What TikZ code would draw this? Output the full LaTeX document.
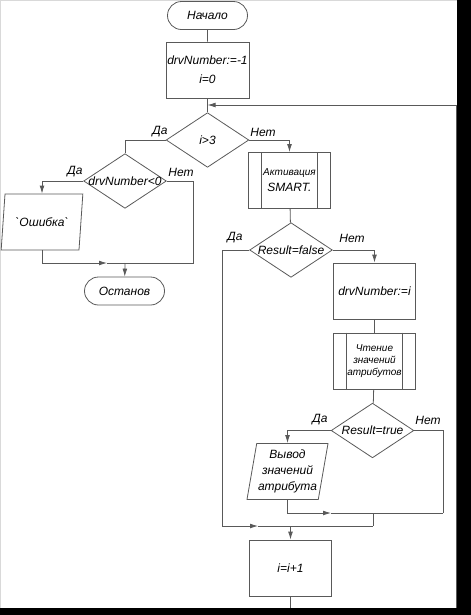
\documentclass[tikz,border=0pt]{standalone}
\usepackage{fontspec}
\setmainfont{Liberation Sans}
\usetikzlibrary{shapes.geometric,shapes.misc,arrows.meta}

\begin{document}
\begin{tikzpicture}[x=0.75pt,y=-0.75pt,
    flow/.style={draw=black!65,line width=0.6pt},
    flowarr/.style={flow,-{Latex[length=6pt,width=3.6pt]}},
    blk/.style={flow,font=\fontsize{9}{11}\selectfont\itshape,inner sep=1pt,align=center},
    term/.style={blk,rounded rectangle,minimum width=62pt,minimum height=21pt},
    proc/.style={blk,rectangle,minimum width=62pt,minimum height=42pt},
    cond/.style={blk,diamond,inner sep=0pt,minimum width=62pt,minimum height=41pt},
    io/.style={blk,trapezium,trapezium stretches=true,minimum height=42pt},
    lbl/.style={font=\fontsize{9}{11}\selectfont\itshape,inner sep=1pt}]
    \useasboundingbox (0,0) rectangle (471,615);
    \draw[black!15] (0.5,0.5) rectangle (457,608);

    % blocks
    \node[term] (start) at (207.5,15.5) {Начало};
    \node[proc] (init) at (207.5,70) {drvNumber:=-1\\[3pt]i=0};
    \node[cond] (d1) at (207.5,140) {\makebox[0pt]{i>3}};
    \node[cond] (d2) at (125,181) {\makebox[0pt]{drvNumber<0}};
    \node[io,minimum width=61.5pt,trapezium left angle=76,trapezium right angle=104] (err) at (42,222) {\textasciigrave Ошибка\textasciigrave};
    \node[term] (stop) at (124.5,291) {Останов};
    \node[proc] (act) at (289.5,180.5) {{\fontsize{7.5}{9}\selectfont Активация}\\[1pt]SMART.};
    \node[cond] (d3) at (291,250) {\makebox[0pt]{Result=false}};
    \node[proc] (setdrv) at (374.5,291) {drvNumber:=i};
    \node[proc,font=\fontsize{7.5}{9}\selectfont\itshape] (read) at (374.5,361) {Чтение\\значений\\атрибутов};
    \node[cond] (d4) at (372.5,430.5) {\makebox[0pt]{Result=true}};
    \node[io,minimum width=61pt,trapezium left angle=78,trapezium right angle=102] (out) at (287.5,471.5) {Вывод\\[1pt]значений\\[1pt]атрибута};
    \node[proc] (inc) at (290.5,568) {i=i+1};
    \foreach \n in {act,read}
        \draw[flow] ([xshift=10.5pt]\n.north west) -- ([xshift=10.5pt]\n.south west)
                    ([xshift=-10.5pt]\n.north east) -- ([xshift=-10.5pt]\n.south east);

    % junctions
    \coordinate (loopin) at (207.5,105);
    \coordinate (j1) at (125,263);
    \coordinate (errmid) at (107,263);
    \coordinate (nojoin) at (193,263);
    \coordinate (yesleft) at (222,526);
    \coordinate (yesmid) at (258,526);
    \coordinate (jm) at (373,526);
    \coordinate (jn) at (373,513);
    \coordinate (outmid) at (331,513);
    \coordinate (nojoin2) at (443,513);
    \coordinate (loopb) at (290.5,609);
    \coordinate (loopr) at (456,609);
    \coordinate (loopt) at (456,105);

    % connectors
    \draw[flow] (start) -- (init);
    \draw[flow] (init) -- (d1);
    \draw[flow] (d1.west) -| (d2.north);
    \draw[flowarr] (d1.east) -| (act.north);
    \draw[flowarr] (d2.west) -| (err.north);
    \draw[flowarr] (err.south) |- (errmid);
    \draw[flow] (errmid) -- (j1);
    \draw[flow] (d2.east) -| (nojoin) -- (j1);
    \draw[flowarr] (j1) -- (stop);
    \draw[flow] (act) -- (d3);
    \draw[flowarr] (d3.east) -| (setdrv.north);
    \draw[flow] (setdrv) -- (read);
    \draw[flow] (read) -- (d4);
    \draw[flowarr] (d4.west) -| (out.north);
    \draw[flow] (d4.east) -| (nojoin2);
    \draw[flowarr] (out.south) |- (outmid);
    \draw[flow] (outmid) -- (nojoin2);
    \draw[flow] (jn) -- (jm);
    \draw[flowarr] (d3.west) -| (yesleft) -- (yesmid);
    \draw[flow] (yesmid) -- (jm);
    \draw[flowarr] (inc.north |- jm) -- (inc.north);
    \draw[flowarr] (inc.south) -- (loopb) -- (loopr) -- (loopt) -- (loopin);

    % labels
    \node[lbl] at (160,132) {Да};
    \node[lbl] at (263,132) {Нет};
    \node[lbl] at (75,172) {Да};
    \node[lbl] at (181,172) {Нет};
    \node[lbl] at (235,238) {Да};
    \node[lbl] at (352,238) {Нет};
    \node[lbl] at (320,420) {Да};
    \node[lbl] at (428,420) {Нет};

    % shadow edge
    \fill[black] (457,0) rectangle (471,615);
    \fill[black] (0,608) rectangle (471,615);
\end{tikzpicture}
\end{document}
